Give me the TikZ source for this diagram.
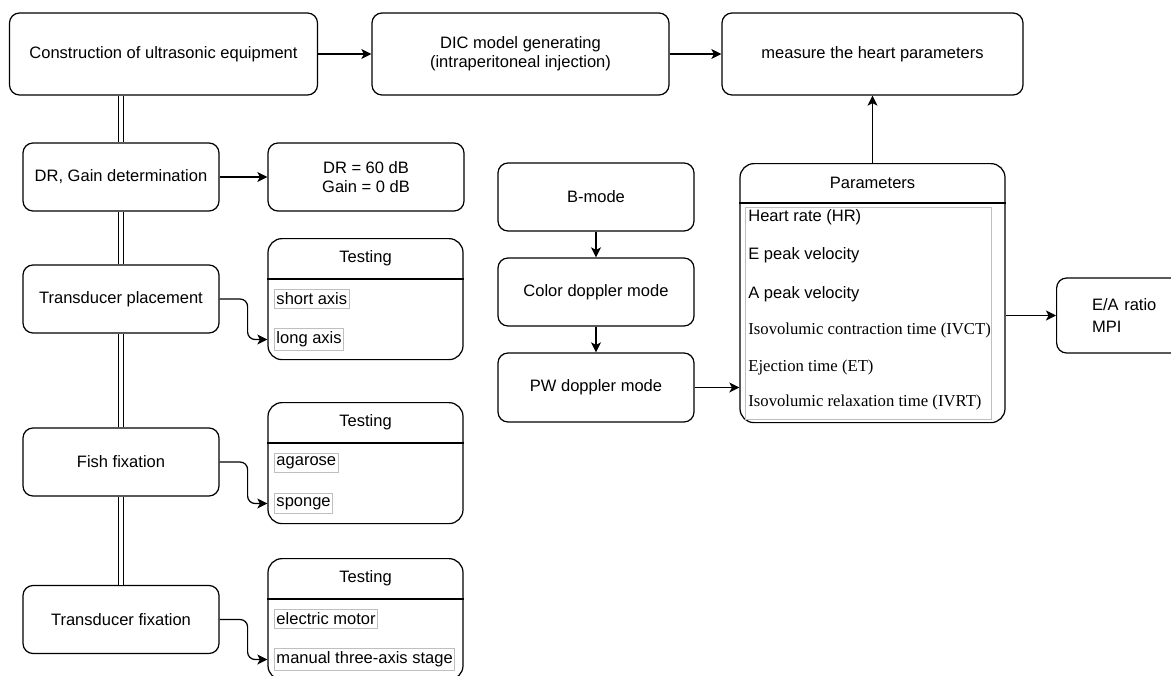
\documentclass[tikz,border=0pt]{standalone}
\usepackage{fontspec}
\setmainfont{Liberation Sans}
\newfontfamily\timesrow{Liberation Serif}
\usetikzlibrary{arrows.meta, positioning}

\begin{document}
\begin{tikzpicture}[
    box/.style={draw, rounded corners=0.2cm, line width=0.7pt, minimum width=3.92cm, minimum height=1.36cm, align=center, font=\fontsize{9.4}{10.8}\selectfont},
    testbox/.style={draw, rounded corners=0.28cm, line width=0.7pt, minimum width=3.9cm, minimum height=2.42cm, anchor=north},
    item/.style={draw=black!25, line width=0.4pt, anchor=west, inner xsep=1pt, inner ysep=2pt, font=\fontsize{9.4}{10.8}\selectfont},
    head/.style={font=\fontsize{9.4}{10.8}\selectfont},
    row/.style={anchor=west, inner sep=0pt, font=\fontsize{9.4}{10.8}\selectfont},
    arrow/.style={line width=0.7pt, -{Stealth[length=0.2cm, width=0.2cm, inset=0.05cm]}},
    link/.style={double, double distance=0.07cm, line width=0.5pt}
]
    \useasboundingbox (0,0) rectangle (23.42,-13.5);

    % Top row
    \node[box, minimum width=6.16cm, minimum height=1.64cm] (cons) at (3.27,-1.08) {Construction of ultrasonic equipment};
    \node[box, minimum width=5.94cm, minimum height=1.64cm] (dic) at (10.41,-1.08) {DIC model generating\\(intraperitoneal injection)};
    \node[box, minimum width=6.02cm, minimum height=1.64cm] (heart) at (17.45,-1.08) {measure the heart parameters};

    % Setup steps
    \node[box] (dr) at (2.42,-3.54) {DR, Gain determination};
    \node[box] (drval) at (7.32,-3.54) {DR = 60 dB\\Gain = 0 dB};
    \node[box] (tp) at (2.42,-5.98) {Transducer placement};
    \node[box] (fish) at (2.42,-9.24) {Fish fixation};
    \node[box] (tf) at (2.42,-12.39) {Transducer fixation};

    % Testing boxes
    \foreach \name/\ytop/\first/\second in {tA/-4.76/short axis/long axis, tB/-8.04/agarose/sponge, tC/-11.16/electric motor/manual three-axis stage} {
        \node[testbox] (\name) at (7.31,\ytop) {};
        \node[head] (\name-h) at ([yshift=-0.41cm]\name.north) {Testing};
        \draw[line width=0.7pt] ([yshift=-0.82cm]\name.north west) -- ([yshift=-0.82cm]\name.north east);
        \node[item] (\name-a) at ([xshift=0.14cm, yshift=-1.22cm]\name.north west) {\first};
        \node[item] (\name-b) at ([xshift=0.14cm, yshift=-2.03cm]\name.north west) {\second};
    }

    % Imaging modes
    \node[box] (bmode) at (11.92,-3.94) {B-mode};
    \node[box] (color) at (11.92,-5.84) {Color doppler mode};
    \node[box, minimum height=1.38cm] (pw) at (11.92,-7.75) {PW doppler mode};

    % Parameters
    \node[testbox, minimum width=5.3cm, minimum height=5.18cm] (params) at (17.45,-3.26) {};
    \node[head] (params-h) at ([yshift=-0.4cm]params.north) {Parameters};
    \draw[line width=0.7pt] ([yshift=-0.8cm]params.north west) -- ([yshift=-0.8cm]params.north east);
    \node[draw=black!25, line width=0.4pt, minimum width=4.92cm, minimum height=4.24cm, anchor=north west, inner sep=0pt] (rows) at (14.9,-4.14) {};
    \foreach \y/\txt [count=\i] in {-4.34/Heart rate (HR), -5.10/E peak velocity, -5.88/A peak velocity}
        \node[row] (p\i) at (14.96,\y) {\txt};
    \foreach \y/\txt [count=\i from 4] in {-6.60/Isovolumic contraction time (IVCT), -7.34/Ejection time (ET), -8.04/Isovolumic relaxation time (IVRT)}
        \node[row, font=\timesrow\fontsize{9.5}{11}\selectfont] (p\i) at (14.96,\y) {\txt};

    \node[box, anchor=west, minimum height=1.5cm, text width=2.5cm, inner xsep=0.58cm, align=left, font=\fontsize{9.4}{12}\selectfont] (ea) at (21.12,-6.31) {E/A ratio\\MPI};

    % Connectors
    \draw[arrow] (cons) -- (dic);
    \draw[arrow] (dic) -- (heart);
    \draw[arrow] (dr) -- (drval);
    \draw[arrow] (bmode) -- (color);
    \draw[arrow] (color) -- (pw);
    \draw[arrow] (pw.east) -- (pw.east -| params.west);
    \draw[arrow] (params) -- (heart);
    \draw[arrow] (params.east |- ea.west) -- (ea.west);
    \foreach \s/\t in {tp/tA, fish/tB, tf/tC}
        \draw[arrow, rounded corners=0.15cm] (\s.east) -- ++(0.56,0) |- (\t-b.west -| \t.west);
    \foreach \s/\t in {cons/dr, dr/tp, tp/fish, fish/tf}
        \draw[link] (\s.south -| tp.north) -- (\t.north -| tp.north);
\end{tikzpicture}
\end{document}
